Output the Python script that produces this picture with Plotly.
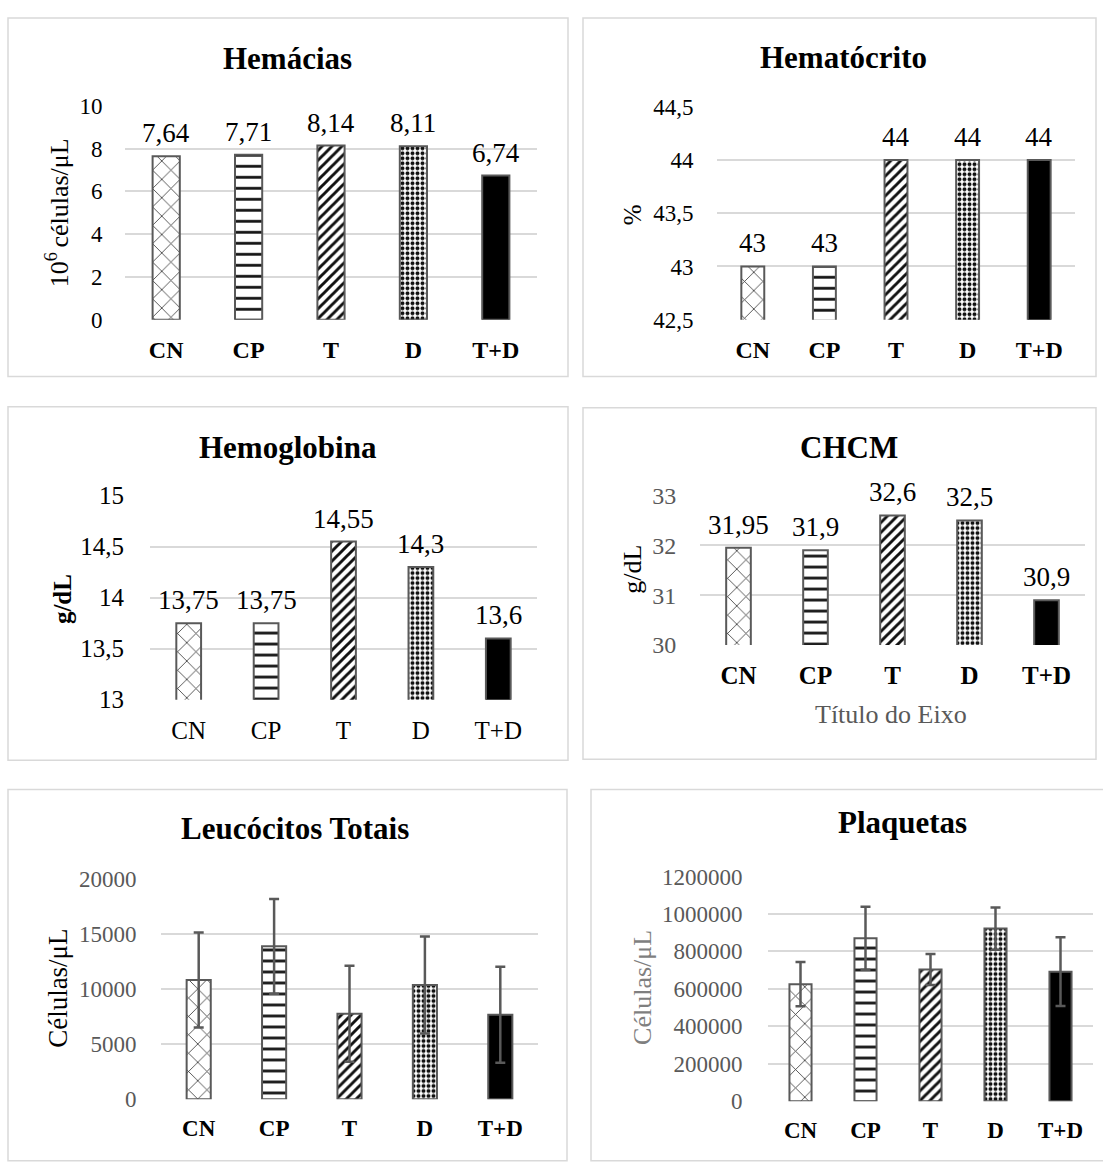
import plotly.graph_objects as go

# ---------------- data ----------------
categories = ["CN", "CP", "T", "D", "T+D"]
hemacias = [7.64, 7.71, 8.14, 8.11, 6.74]
hematocrito = [43, 43, 44, 44, 44]
hemoglobina = [13.75, 13.75, 14.55, 14.3, 13.6]
chcm = [31.95, 31.9, 32.6, 32.5, 30.9]
leucocitos = [10800, 13850, 7750, 10350, 7650]
leucocitos_err = [4300, 4300, 4350, 4400, 4350]
plaquetas = [625000, 870000, 703000, 922000, 692000]
plaquetas_err = [118000, 168000, 83000, 113000, 184000]

ticks_hemacias = [0, 2, 4, 6, 8, 10]
ticks_hematocrito = [42.5, 43, 43.5, 44, 44.5]
ticks_hemoglobina = [13, 13.5, 14, 14.5, 15]
ticks_chcm = [30, 31, 32, 33]
ticks_leucocitos = [0, 5000, 10000, 15000, 20000]
ticks_plaquetas = [0, 200000, 400000, 600000, 800000, 1000000, 1200000]

# ---------------- style ----------------
W, H = 1103, 1166
FONT = "Liberation Serif"
GRID = "#d9d9d9"
GRAY = "#595959"


def fmt(v):
    if float(v) == int(v):
        return str(int(v))
    return f"{v:g}".replace(".", ",")


def px_x(x):
    return x / W


def px_y(y):
    return 1 - y / H


# per-category bar style (CN, CP, T, D, T+D)
bar_styles = [
    dict(color="white", pattern=dict(shape="x", size=13, solidity=0.12, fgcolor="#333333",
                                     bgcolor="white", fgopacity=1, fillmode="overlay")),
    dict(color="white", pattern=dict(shape="-", size=11, solidity=0.25, fgcolor="#111111",
                                     bgcolor="white", fgopacity=1, fillmode="overlay")),
    dict(color="white", pattern=dict(shape="/", size=7, solidity=0.42, fgcolor="#111111",
                                     bgcolor="white", fgopacity=1, fillmode="overlay")),
    dict(color="white", pattern=dict(shape=".", size=5, solidity=0.5, fgcolor="#111111",
                                     bgcolor="white", fgopacity=1, fillmode="overlay")),
    dict(color="black", pattern=None),
]

panels = [
    dict(vals=hemacias, err=None, ticks=ticks_hemacias, box=(125, 537, 95, 314), bw=0.33,
         tickfont=dict(size=23, color="black"), catfont=dict(size=24, color="black"), catbold=True,
         ylen=17, xlen=8, labels=True),
    dict(vals=hematocrito, err=None, ticks=ticks_hematocrito, box=(717, 1075, 96, 314), bw=0.32,
         tickfont=dict(size=23, color="black"), catfont=dict(size=24, color="black"), catbold=True,
         ylen=18, xlen=8, labels=True),
    dict(vals=hemoglobina, err=None, ticks=ticks_hemoglobina, box=(150, 537, 494, 703), bw=0.32,
         tickfont=dict(size=25, color="black"), catfont=dict(size=25, color="black"), catbold=False,
         ylen=20, xlen=8, labels=True),
    dict(vals=chcm, err=None, ticks=ticks_chcm, box=(700, 1085, 494, 647), bw=0.32,
         tickfont=dict(size=24, color=GRAY), catfont=dict(size=25, color="black"), catbold=True,
         ylen=18, xlen=8, labels=True),
    dict(vals=leucocitos, err=leucocitos_err, ticks=ticks_leucocitos, box=(161, 538, 886, 1112), bw=0.32,
         tickfont=dict(size=23, color=GRAY), catfont=dict(size=23, color="black"), catbold=True,
         ylen=19, xlen=8, labels=False),
    dict(vals=plaquetas, err=plaquetas_err, ticks=ticks_plaquetas, box=(768, 1093, 884, 1114), bw=0.34,
         tickfont=dict(size=23, color=GRAY), catfont=dict(size=23, color="black"), catbold=True,
         ylen=20, xlen=8, labels=False),
]

fig = go.Figure()
layout_axes = {}
annotations = []

for i, p in enumerate(panels, start=1):
    xa = "x" if i == 1 else f"x{i}"
    ya = "y" if i == 1 else f"y{i}"
    for j, cat in enumerate(categories):
        st = bar_styles[j]
        marker = dict(color=st["color"], line=dict(color=GRAY, width=2))
        if st["pattern"] is not None:
            marker["pattern"] = st["pattern"]
        err = None
        if p["err"] is not None:
            err = dict(type="data", array=[p["err"][j]], visible=True, color=GRAY,
                       thickness=2.5, width=5)
        fig.add_trace(go.Bar(
            x=[cat], y=[p["vals"][j]], xaxis=xa, yaxis=ya, width=p["bw"],
            marker=marker, error_y=err, hoverinfo="skip", name=cat,
        ))
    x0, x1, yt, yb = p["box"]
    ticks = p["ticks"]
    xkey = "xaxis" if i == 1 else f"xaxis{i}"
    ykey = "yaxis" if i == 1 else f"yaxis{i}"
    cat_text = [f"<b>{c}</b>" if p["catbold"] else c for c in categories]
    layout_axes[xkey] = dict(
        domain=[px_x(x0), px_x(x1)], anchor=ya, type="category",
        categoryorder="array", categoryarray=categories,
        showgrid=False, zeroline=False, showline=False,
        ticks="outside", ticklen=p["xlen"], tickcolor="rgba(0,0,0,0)",
        tickmode="array", tickvals=categories, ticktext=cat_text,
        tickfont=dict(family=FONT, **p["catfont"]), fixedrange=True,
    )
    layout_axes[ykey] = dict(
        domain=[px_y(yb), px_y(yt)], anchor=xa,
        range=[ticks[0], ticks[-1]],
        showgrid=True, gridcolor=GRID, gridwidth=1.5,
        zeroline=False, showline=False,
        ticks="outside", ticklen=p["ylen"], tickcolor="rgba(0,0,0,0)",
        tickmode="array", tickvals=ticks, ticktext=[fmt(t) for t in ticks],
        tickfont=dict(family=FONT, **p["tickfont"]), fixedrange=True,
    )
    if p["labels"]:
        for c, v in zip(categories, p["vals"]):
            annotations.append(dict(
                x=c, y=v, xref=xa, yref=ya, text=fmt(v), showarrow=False,
                yanchor="middle", xanchor="center", yshift=23,
                font=dict(family=FONT, size=27, color="black"),
            ))

# ---------------- titles ----------------
titles = [
    ("Hemácias", 287, 47),
    ("Hematócrito", 843, 46),
    ("Hemoglobina", 288, 445),
    ("CHCM", 849, 445),
    ("Leucócitos Totais", 295, 835),
    ("Plaquetas", 902, 829),
]
for t, x, y in titles:
    annotations.append(dict(
        x=px_x(x), y=px_y(y), xref="paper", yref="paper", text=f"<b>{t}</b>",
        showarrow=False, xanchor="center", yanchor="middle",
        font=dict(family=FONT, size=31, color="black"),
    ))

# ---------------- axis titles ----------------
axis_titles = [
    ("10<sup>6 </sup>células/μL", 57, 205, 26, "black", -90),
    ("%", 632, 207, 25, "black", -90),
    ("<b>g/dL</b>", 62, 600, 25, "black", -90),
    ("g/dL", 633, 570, 26, "black", -90),
    ("Células/μL", 58, 999, 27, "black", -90),
    ("Células/μL", 643, 998, 26, "#7f7f7f", -90),
    ("Título do Eixo", 891, 718, 26, GRAY, 0),
]
for t, x, y, s, col, ang in axis_titles:
    annotations.append(dict(
        x=px_x(x), y=px_y(y), xref="paper", yref="paper", text=t,
        showarrow=False, xanchor="center", yanchor="middle", textangle=ang,
        font=dict(family=FONT, size=s, color=col),
    ))

# ---------------- chart boxes ----------------
boxes = [
    (8, 5, 568, 372),
    (583, 5, 1096, 372),
    (8, 403, 568, 765),
    (583, 404, 1096, 764),
    (8, 795, 567, 1175),
    (591, 795, 1115, 1175),
]
shapes = []
for bx0, by0, bx1, by1 in boxes:
    shapes.append(dict(
        type="rect", xref="paper", yref="paper",
        x0=px_x(bx0), x1=px_x(bx1), y0=px_y(by1), y1=px_y(by0),
        line=dict(color=GRID, width=1.5), fillcolor="rgba(0,0,0,0)", layer="below",
    ))

fig.update_layout(
    width=W, height=H,
    margin=dict(l=0, r=0, t=0, b=0),
    paper_bgcolor="white", plot_bgcolor="white",
    showlegend=False, barmode="overlay",
    font=dict(family=FONT, color="black"),
    annotations=annotations,
    shapes=shapes,
    **layout_axes,
)

fig.write_html("out.html")
